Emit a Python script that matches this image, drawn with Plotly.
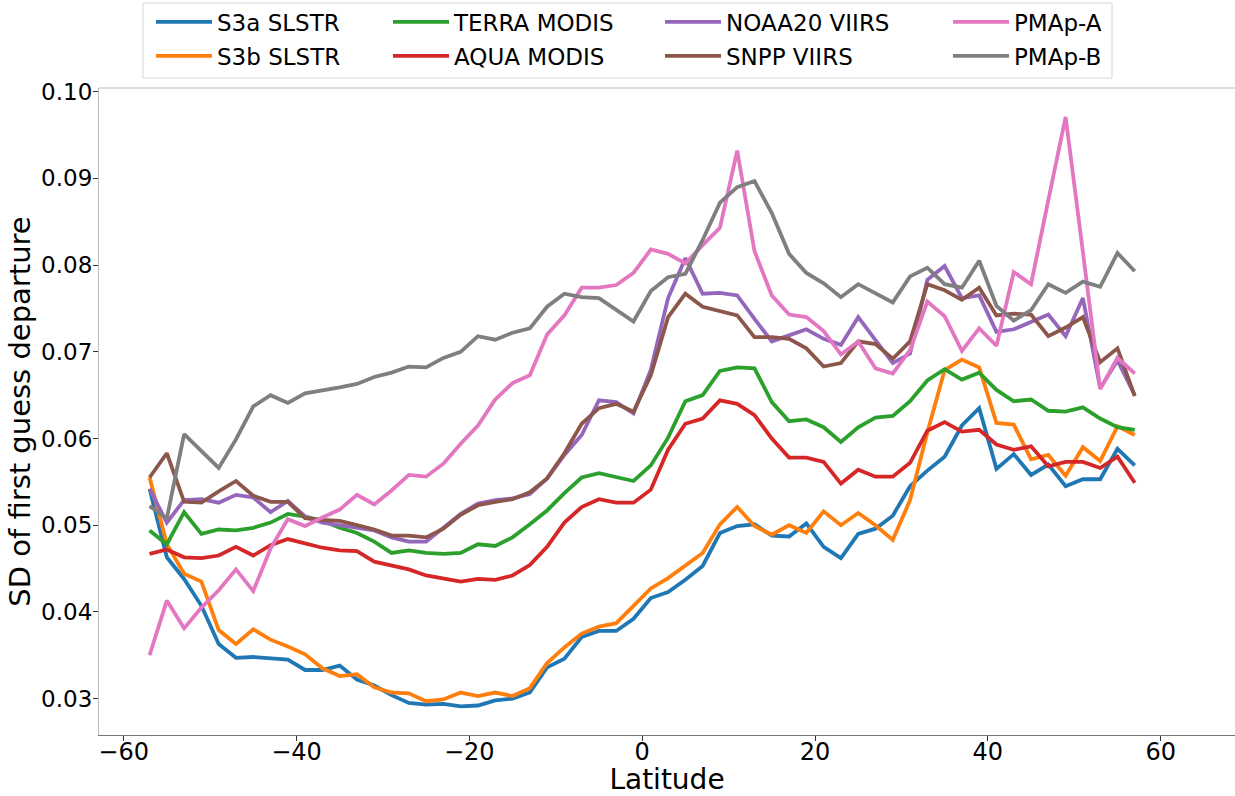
import plotly.graph_objects as go

lat = list(range(-57, 58, 2))

s3a_slstr = [.0542, .0463, .0438, .0407, .0363, .0347, .0348, .0347, .0345, .0333, .0333, .0338, .0322, .0315, .0304, .0295, .0293, .0294, .0291, .0292,
             .0298, .0300, .0307, .0336, .0346, .0371, .0378, .0378, .0392, .0416, .0423, .0437, .0453, .0491, .0499, .0501, .0488, .0487, .0502, .0475,
             .0462, .0490, .0496, .0511, .0545, .0563, .0579, .0615, .0635, .0565, .0582, .0558, .0570, .0545, .0553, .0553, .0588, .0569]
s3b_slstr = [.0555, .0478, .0444, .0435, .0379, .0363, .0380, .0368, .0360, .0351, .0335, .0326, .0328, .0313, .0307, .0306, .0297, .0299, .0307, .0303,
             .0307, .0303, .0312, .0341, .0359, .0375, .0383, .0387, .0407, .0427, .0439, .0453, .0468, .0501, .0521, .0499, .0489, .0500, .0491, .0516,
             .0500, .0514, .0500, .0483, .0529, .0607, .0679, .0691, .0682, .0618, .0616, .0576, .0581, .0557, .0590, .0574, .0614, .0604]
terra_modis = [.0494, .0478, .0515, .0490, .0495, .0494, .0497, .0503, .0513, .0510, .0505, .0497, .0491, .0481, .0468, .0471, .0468, .0467, .0468, .0478,
               .0476, .0486, .0501, .0517, .0537, .0555, .0560, .0556, .0551, .0569, .0601, .0643, .0650, .0678, .0682, .0681, .0642, .0620, .0622, .0613,
               .0596, .0613, .0624, .0626, .0643, .0667, .0680, .0668, .0676, .0656, .0643, .0645, .0632, .0631, .0636, .0623, .0613, .0610]
aqua_modis = [.0467, .0472, .0463, .0462, .0465, .0475, .0465, .0477, .0484, .0479, .0474, .0471, .0470, .0458, .0453, .0449, .0442, .0438, .0435, .0438,
              .0437, .0442, .0454, .0475, .0503, .0521, .0530, .0526, .0526, .0541, .0587, .0617, .0623, .0644, .0640, .0627, .0600, .0578, .0578, .0573,
              .0548, .0564, .0556, .0556, .0572, .0609, .0619, .0608, .0610, .0593, .0587, .0591, .0568, .0573, .0573, .0566, .0579, .0549]
noaa20_viirs = [.0542, .0503, .0529, .0530, .0526, .0535, .0532, .0515, .0528, .0510, .0503, .0500, .0497, .0494, .0486, .0481, .0481, .0497, .0513, .0525,
                .0529, .0531, .0536, .0554, .0581, .0604, .0644, .0642, .0629, .0679, .0762, .0808, .0767, .0768, .0765, .0738, .0712, .0719, .0726, .0715,
                .0708, .0740, .0713, .0687, .0698, .0783, .0799, .0762, .0765, .0723, .0726, .0735, .0743, .0718, .0762, .0658, .0690, .0650]
snpp_viirs = [.0555, .0583, .0527, .0526, .0539, .0551, .0534, .0527, .0527, .0508, .0506, .0505, .0500, .0495, .0488, .0488, .0486, .0496, .0512, .0523,
              .0527, .0530, .0538, .0554, .0583, .0617, .0635, .0640, .0631, .0673, .0740, .0767, .0752, .0747, .0742, .0717, .0717, .0715, .0704, .0683,
              .0687, .0712, .0709, .0692, .0712, .0778, .0771, .0760, .0774, .0742, .0744, .0743, .0718, .0728, .0740, .0688, .0704, .0649]
pmap_a = [.0350, .0413, .0381, .0405, .0425, .0449, .0424, .0473, .0507, .0499, .0509, .0518, .0535, .0524, .0540, .0558, .0556, .0571, .0594, .0615,
          .0645, .0664, .0673, .0720, .0742, .0774, .0774, .0777, .0791, .0818, .0813, .0802, .0823, .0843, .0932, .0816, .0765, .0743, .0740, .0724,
          .0697, .0712, .0681, .0675, .0702, .0758, .0741, .0701, .0727, .0707, .0792, .0778, .0875, .0971, .0815, .0657, .0693, .0675]
pmap_b = [.0522, .0508, .0605, .0585, .0566, .0599, .0637, .0650, .0641, .0652, .0655, .0659, .0663, .0671, .0676, .0683, .0682, .0693, .0700, .0718,
          .0714, .0722, .0727, .0752, .0767, .0763, .0762, .0748, .0735, .0770, .0786, .0790, .0829, .0872, .0890, .0897, .0860, .0813, .0791, .0779,
          .0763, .0778, .0767, .0757, .0787, .0797, .0778, .0774, .0805, .0753, .0736, .0748, .0778, .0768, .0781, .0775, .0814, .0793]

names = ["S3a SLSTR", "S3b SLSTR", "TERRA MODIS", "AQUA MODIS",
         "NOAA20 VIIRS", "SNPP VIIRS", "PMAp-A", "PMAp-B"]
series = [s3a_slstr, s3b_slstr, terra_modis, aqua_modis,
          noaa20_viirs, snpp_viirs, pmap_a, pmap_b]
colors = ["#1f77b4", "#ff7f0e", "#2ca02c", "#d62728",
          "#9467bd", "#8c564b", "#e377c2", "#7f7f7f"]

W, H = 1235, 796
L, R, T, B = 99, 0, 88, 61
pw, ph = W - L - R, H - T - B

def px(X):
    return (X - L) / pw

def py(Y):
    return 1 + (T - Y) / ph

FONT = "DejaVu Sans"
fig = go.Figure()

# legend placement: left edge of each legend column, row centres
col_x = [151, 388, 660, 948]
row_y = [22, 56]

layout_legends = {}
for i, (n, s, c) in enumerate(zip(names, series, colors)):
    key = "legend" if i == 0 else f"legend{i + 1}"
    fig.add_trace(go.Scatter(x=lat, y=s, mode="lines", name=n,
                             line=dict(color=c, width=3.8), legend=key))
    col, row = i // 2, i % 2
    layout_legends[key] = dict(x=px(col_x[col]), y=py(row_y[row]), xanchor="left", yanchor="middle",
                               bgcolor="rgba(0,0,0,0)", borderwidth=0, itemwidth=56,
                               font=dict(family=FONT, size=23, color="black"))

fig.update_layout(**layout_legends)

# legend frame
fig.add_shape(type="rect", xref="paper", yref="paper",
              x0=px(143), x1=px(1112), y0=py(78), y1=py(3),
              line=dict(color="#d6d6d6", width=1), fillcolor="rgba(255,255,255,0)")

fig.update_layout(
    width=W, height=H,
    margin=dict(l=L, r=R, t=T, b=B, autoexpand=False),
    plot_bgcolor="white", paper_bgcolor="white",
    showlegend=True,
    font=dict(family=FONT, size=23, color="black"),
    xaxis=dict(range=[-62.85, 68.6], tickvals=[-60, -40, -20, 0, 20, 40, 60],
               ticks="outside", ticklen=5, tickwidth=1, tickcolor="#333",
               ticklabelstandoff=-10,
               showline=True, linecolor="#777", linewidth=1.2, mirror=False,
               showgrid=False, zeroline=False,
               tickfont=dict(family=FONT, size=24),
               title=dict(text="Latitude", font=dict(family=FONT, size=28), standoff=4)),
    yaxis=dict(range=[0.0258, 0.10043], tickvals=[0.03, 0.04, 0.05, 0.06, 0.07, 0.08, 0.09, 0.10],
               tickformat=".2f",
               ticks="outside", ticklen=5, tickwidth=1, tickcolor="#333",
               ticklabelstandoff=-4,
               showline=True, linecolor="#bbbbbb", linewidth=1.2,
               showgrid=False, zeroline=False,
               tickfont=dict(family=FONT, size=23),
               title=dict(text="SD of first guess departure", font=dict(family=FONT, size=29), standoff=1)),
)

# top spine
fig.add_shape(type="line", xref="paper", yref="paper", x0=0, x1=1, y0=1, y1=1,
              line=dict(color="#bbbbbb", width=1.2))

fig.write_html("out.html", config={"displayModeBar": False},
               post_script="document.body.style.margin='0';")
